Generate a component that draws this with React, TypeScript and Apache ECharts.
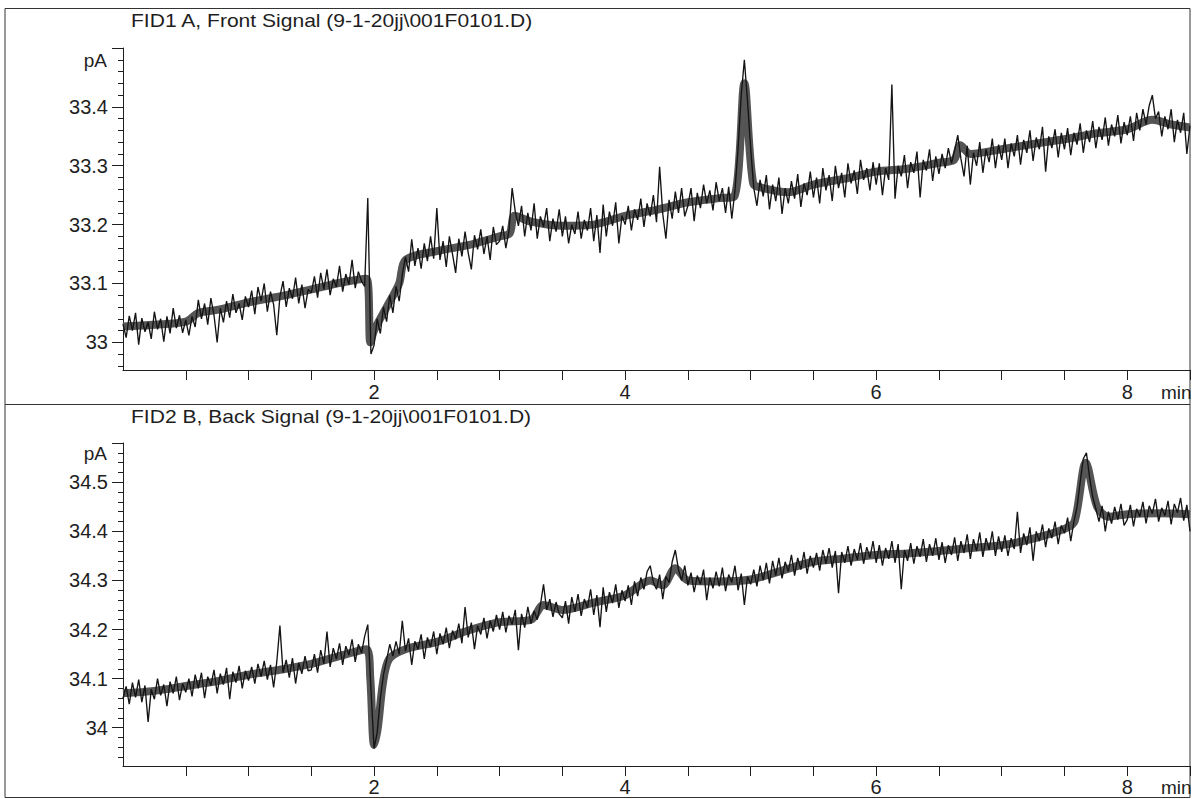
import React, { useEffect, useRef } from "react";
import * as echarts from "echarts";

// Sampling interval of the traces (minutes)
const SAMPLE_INTERVAL_MIN = 0.025;

// FID1 A, Front Signal (pA), one row = 0.5 min
const frontSignal: number[] = [
  33.031, 33.008, 33.045, 33.020, 33.050, 32.996, 33.041, 33.018, 33.034, 33.006, 33.052, 33.022, 33.040, 33.001, 33.044, 33.015, 33.058, 33.024, 33.046, 33.016,
  33.038, 33.012, 33.044, 33.026, 33.072, 33.040, 33.066, 33.030, 33.075, 33.046, 33.000, 33.058, 33.034, 33.070, 33.042, 33.082, 33.050, 33.066, 33.038, 33.078,
  33.060, 33.088, 33.048, 33.094, 33.070, 33.100, 33.052, 33.086, 33.064, 33.012, 33.078, 33.104, 33.060, 33.092, 33.074, 33.110, 33.066, 33.098, 33.058, 33.090,
  33.084, 33.112, 33.076, 33.118, 33.090, 33.124, 33.080, 33.108, 33.094, 33.130, 33.086, 33.116, 33.098, 33.140, 33.092, 33.120, 33.104, 33.095, 33.245, 32.980,
  32.995, 33.040, 33.015, 33.060, 33.035, 33.080, 33.050, 33.095, 33.070, 33.115, 33.145, 33.120, 33.175, 33.130, 33.160, 33.125, 33.168, 33.138, 33.180, 33.142,
  33.228, 33.140, 33.172, 33.128, 33.180, 33.150, 33.118, 33.176, 33.146, 33.188, 33.152, 33.124, 33.182, 33.158, 33.192, 33.150, 33.180, 33.140, 33.196, 33.166,
  33.172, 33.198, 33.160, 33.190, 33.262, 33.222, 33.198, 33.232, 33.180, 33.220, 33.190, 33.236, 33.176, 33.214, 33.196, 33.228, 33.172, 33.210, 33.188, 33.226,
  33.180, 33.214, 33.168, 33.200, 33.184, 33.222, 33.176, 33.208, 33.190, 33.228, 33.172, 33.216, 33.152, 33.234, 33.180, 33.222, 33.198, 33.238, 33.168, 33.215,
  33.200, 33.232, 33.190, 33.226, 33.208, 33.244, 33.196, 33.236, 33.214, 33.250, 33.204, 33.298, 33.218, 33.176, 33.242, 33.210, 33.256, 33.220, 33.262, 33.214,
  33.232, 33.262, 33.206, 33.254, 33.228, 33.268, 33.236, 33.258, 33.224, 33.272, 33.240, 33.262, 33.220, 33.264, 33.210, 33.258, 33.330, 33.420, 33.480, 33.410,
  33.330, 33.262, 33.232, 33.276, 33.248, 33.284, 33.226, 33.268, 33.240, 33.280, 33.218, 33.262, 33.236, 33.274, 33.244, 33.286, 33.230, 33.270, 33.250, 33.290,
  33.246, 33.280, 33.236, 33.296, 33.258, 33.284, 33.240, 33.300, 33.262, 33.288, 33.246, 33.304, 33.270, 33.292, 33.252, 33.310, 33.276, 33.296, 33.258, 33.306,
  33.268, 33.304, 33.250, 33.296, 33.276, 33.438, 33.244, 33.300, 33.282, 33.318, 33.262, 33.306, 33.288, 33.324, 33.246, 33.310, 33.292, 33.328, 33.274, 33.316,
  33.286, 33.320, 33.296, 33.330, 33.304, 33.326, 33.352, 33.312, 33.282, 33.334, 33.268, 33.322, 33.300, 33.340, 33.288, 33.328, 33.306, 33.346, 33.296, 33.336,
  33.310, 33.346, 33.296, 33.338, 33.316, 33.352, 33.302, 33.344, 33.322, 33.360, 33.308, 33.348, 33.328, 33.366, 33.290, 33.350, 33.330, 33.362, 33.314, 33.356,
  33.328, 33.364, 33.318, 33.356, 33.336, 33.372, 33.322, 33.360, 33.340, 33.376, 33.330, 33.366, 33.344, 33.382, 33.334, 33.370, 33.350, 33.386, 33.338, 33.374,
  33.352, 33.384, 33.342, 33.390, 33.360, 33.396, 33.370, 33.402, 33.420, 33.380, 33.392, 33.350, 33.384, 33.362, 33.396, 33.340, 33.378, 33.356, 33.390, 33.320,
  33.368,
];

// Dense core of the front trace (minutes, pA)
const frontCore: [number, number][] = [
  [0, 33.027], [0.25, 33.03], [0.5, 33.035], [0.6, 33.05], [0.75, 33.055], [1.0, 33.068], [1.25, 33.078], [1.5, 33.09],
  [1.75, 33.102], [1.94, 33.108], [1.97, 33.0], [2.0, 33.02], [2.1, 33.06], [2.2, 33.1], [2.25, 33.14], [2.5, 33.155],
  [2.75, 33.165], [3.0, 33.18], [3.08, 33.185], [3.12, 33.215], [3.25, 33.205], [3.5, 33.198], [3.75, 33.2], [4.0, 33.215],
  [4.25, 33.225], [4.5, 33.238], [4.75, 33.245], [4.87, 33.248], [4.95, 33.44], [5.02, 33.27], [5.1, 33.262], [5.3, 33.255],
  [5.5, 33.268], [5.75, 33.278], [6.0, 33.29], [6.25, 33.295], [6.5, 33.305], [6.62, 33.31], [6.67, 33.335], [6.75, 33.32],
  [7.0, 33.328], [7.25, 33.337], [7.5, 33.345], [7.75, 33.355], [8.0, 33.362], [8.2, 33.378], [8.35, 33.37], [8.5, 33.365],
];

// FID2 B, Back Signal (pA), one row = 0.5 min
const backSignal: number[] = [
  34.060, 34.084, 34.048, 34.092, 34.062, 34.098, 34.052, 34.086, 34.012, 34.078, 34.058, 34.100, 34.066, 34.088, 34.044, 34.094, 34.070, 34.104, 34.056, 34.090,
  34.072, 34.100, 34.064, 34.108, 34.080, 34.112, 34.060, 34.104, 34.086, 34.118, 34.070, 34.110, 34.088, 34.122, 34.058, 34.114, 34.092, 34.126, 34.080, 34.116,
  34.096, 34.124, 34.090, 34.130, 34.104, 34.136, 34.098, 34.128, 34.082, 34.134, 34.208, 34.112, 34.138, 34.102, 34.142, 34.090, 34.132, 34.110, 34.146, 34.116,
  34.118, 34.150, 34.112, 34.158, 34.130, 34.196, 34.124, 34.162, 34.140, 34.172, 34.128, 34.166, 34.148, 34.180, 34.134, 34.170, 34.152, 34.186, 34.210, 34.080,
  33.958, 33.990, 34.060, 34.108, 34.138, 34.170, 34.146, 34.176, 34.150, 34.218, 34.156, 34.182, 34.128, 34.176, 34.160, 34.190, 34.140, 34.184, 34.164, 34.196,
  34.150, 34.192, 34.170, 34.204, 34.162, 34.198, 34.180, 34.212, 34.172, 34.246, 34.184, 34.214, 34.160, 34.208, 34.190, 34.224, 34.182, 34.218, 34.196, 34.230,
  34.200, 34.236, 34.194, 34.228, 34.210, 34.240, 34.158, 34.232, 34.204, 34.246, 34.212, 34.238, 34.220, 34.250, 34.292, 34.240, 34.262, 34.226, 34.256, 34.232,
  34.224, 34.258, 34.212, 34.266, 34.236, 34.272, 34.228, 34.262, 34.244, 34.282, 34.230, 34.270, 34.205, 34.286, 34.236, 34.276, 34.254, 34.292, 34.244, 34.280,
  34.258, 34.290, 34.250, 34.298, 34.268, 34.306, 34.282, 34.318, 34.330, 34.296, 34.282, 34.312, 34.262, 34.308, 34.296, 34.338, 34.362, 34.322, 34.300, 34.330,
  34.290, 34.316, 34.276, 34.310, 34.292, 34.322, 34.260, 34.306, 34.284, 34.318, 34.288, 34.326, 34.278, 34.312, 34.296, 34.330, 34.280, 34.314, 34.250, 34.308,
  34.292, 34.322, 34.288, 34.330, 34.300, 34.336, 34.294, 34.340, 34.310, 34.346, 34.304, 34.338, 34.318, 34.352, 34.310, 34.346, 34.322, 34.358, 34.314, 34.350,
  34.326, 34.356, 34.320, 34.362, 34.334, 34.366, 34.326, 34.360, 34.274, 34.358, 34.336, 34.370, 34.330, 34.364, 34.342, 34.376, 34.334, 34.368, 34.346, 34.380,
  34.336, 34.372, 34.330, 34.366, 34.344, 34.380, 34.336, 34.374, 34.282, 34.362, 34.340, 34.376, 34.334, 34.370, 34.348, 34.384, 34.338, 34.374, 34.350, 34.386,
  34.342, 34.378, 34.336, 34.372, 34.352, 34.388, 34.340, 34.380, 34.356, 34.394, 34.344, 34.384, 34.360, 34.398, 34.348, 34.386, 34.362, 34.400, 34.350, 34.390,
  34.358, 34.392, 34.350, 34.386, 34.364, 34.440, 34.356, 34.396, 34.372, 34.408, 34.340, 34.400, 34.380, 34.414, 34.368, 34.406, 34.386, 34.420, 34.374, 34.412,
  34.396, 34.428, 34.380, 34.420, 34.450, 34.500, 34.548, 34.560, 34.510, 34.470, 34.446, 34.420, 34.452, 34.400, 34.440, 34.416, 34.450, 34.424, 34.456, 34.412,
  34.424, 34.454, 34.410, 34.446, 34.430, 34.460, 34.416, 34.452, 34.436, 34.466, 34.420, 34.448, 34.432, 34.462, 34.414, 34.456, 34.438, 34.468, 34.422, 34.454,
  34.400,
];

// Dense core of the back trace (minutes, pA)
const backCore: [number, number][] = [
  [0, 34.07], [0.25, 34.075], [0.5, 34.085], [0.75, 34.095], [1.0, 34.108], [1.25, 34.118], [1.5, 34.13], [1.75, 34.148],
  [1.94, 34.16], [1.97, 34.1], [2.0, 33.965], [2.03, 34.0], [2.07, 34.09], [2.12, 34.14], [2.25, 34.16], [2.5, 34.175],
  [2.75, 34.198], [3.0, 34.215], [3.25, 34.22], [3.35, 34.25], [3.5, 34.24], [3.75, 34.255], [4.0, 34.27], [4.2, 34.3],
  [4.3, 34.29], [4.4, 34.325], [4.5, 34.3], [4.75, 34.298], [5.0, 34.302], [5.25, 34.32], [5.5, 34.338], [5.75, 34.345],
  [6.0, 34.352], [6.25, 34.355], [6.5, 34.36], [6.75, 34.366], [7.0, 34.372], [7.25, 34.385], [7.5, 34.405], [7.58, 34.42],
  [7.67, 34.54], [7.76, 34.45], [7.85, 34.43], [8.0, 34.435], [8.25, 34.437], [8.5, 34.435],
];

// Axis ranges and tick positions
const xRange = [0, 8.5];
const xTickValues = [0.5, 1, 1.5, 2, 2.5, 3, 3.5, 4, 4.5, 5, 5.5, 6, 6.5, 7, 7.5, 8, 8.5];
const xLabelValues = [2, 4, 6, 8];

const frontRange = [32.953, 33.5];
const frontLabelValues = [33, 33.1, 33.2, 33.3, 33.4];
const frontMajorTicks = [33, 33.1, 33.2, 33.3, 33.4, 33.5];
const frontMinorTicks = [32.96, 32.98, 33.02, 33.04, 33.06, 33.08, 33.12, 33.14, 33.16, 33.18, 33.22, 33.24, 33.26, 33.28, 33.32, 33.34, 33.36, 33.38, 33.42, 33.44, 33.46, 33.48];

const backRange = [33.922, 34.58];
const backLabelValues = [34, 34.1, 34.2, 34.3, 34.4, 34.5];
const backMajorTicks = [34, 34.1, 34.2, 34.3, 34.4, 34.5, 34.58];
const backMinorTicks = [33.94, 33.96, 33.98, 34.02, 34.04, 34.06, 34.08, 34.12, 34.14, 34.16, 34.18, 34.22, 34.24, 34.26, 34.28, 34.32, 34.34, 34.36, 34.38, 34.42, 34.44, 34.46, 34.48, 34.52, 34.54, 34.56];

const frontTitle = "FID1 A, Front Signal (9-1-20jj\\001F0101.D)";
const backTitle = "FID2 B, Back Signal (9-1-20jj\\001F0101.D)";

const FONT = "'Liberation Sans', Arial, sans-serif";
const INK = "#1e1e1e";
const TEXT_STRETCH = 1.17;

function toPairs(values: number[]): [number, number][] {
  return values.map((v, i) => [Number((i * SAMPLE_INTERVAL_MIN).toFixed(3)), v]);
}

export default function App() {
  const ref = useRef<HTMLDivElement>(null);

  useEffect(() => {
    if (!ref.current) return;
    const chart = echarts.init(ref.current, undefined, { renderer: "svg" });

    const xAxisBase = (gridIndex: number, labelMargin: number) => ({
      type: "value",
      gridIndex,
      min: xRange[0],
      max: xRange[1],
      axisLine: { show: true, lineStyle: { color: INK, width: 1 } },
      axisTick: { show: true, inside: false, length: 10, customValues: xTickValues, lineStyle: { color: INK } },
      axisLabel: {
        show: true,
        customValues: xLabelValues,
        margin: labelMargin,
        fontSize: 20,
        fontFamily: FONT,
        color: INK,
      },
      splitLine: { show: false },
    });

    const yLabelAxis = (gridIndex: number, range: number[], minor: number[], labels: number[]) => ({
      type: "value",
      gridIndex,
      position: "left",
      min: range[0],
      max: range[1],
      axisLine: { show: true, lineStyle: { color: INK, width: 1 } },
      axisTick: { show: true, inside: false, length: 5, customValues: minor, lineStyle: { color: INK } },
      axisLabel: {
        show: true,
        customValues: labels,
        margin: 15,
        fontSize: 20,
        fontFamily: FONT,
        color: INK,
        formatter: (v: number) => String(Number(v.toFixed(2))),
      },
      splitLine: { show: false },
    });

    const yMajorAxis = (gridIndex: number, range: number[], ticks: number[]) => ({
      type: "value",
      gridIndex,
      position: "left",
      offset: 0,
      min: range[0],
      max: range[1],
      axisLine: { show: false },
      axisTick: { show: true, inside: false, length: 11, customValues: ticks, lineStyle: { color: INK } },
      axisLabel: { show: false },
      splitLine: { show: false },
    });

    const coreSeries = (name: string, idx: number, data: [number, number][]) => ({
      name,
      type: "line",
      xAxisIndex: idx,
      yAxisIndex: idx,
      data,
      showSymbol: false,
      symbol: "none",
      smooth: 0.3,
      lineStyle: { color: "#555555", width: 8, cap: "butt", join: "round" },
      emphasis: { disabled: true },
      silent: true,
      z: 1,
    });

    const traceSeries = (name: string, idx: number, values: number[]) => ({
      name,
      type: "line",
      xAxisIndex: idx,
      yAxisIndex: idx,
      data: toPairs(values),
      showSymbol: false,
      symbol: "none",
      lineStyle: { color: "#141414", width: 1.35 },
      emphasis: { disabled: true },
      z: 2,
    });

    const option = {
      animation: false,
      backgroundColor: "#ffffff",
      grid: [
        { left: 123, top: 48, width: 1067, height: 322 },
        { left: 123, top: 443, width: 1067, height: 323 },
      ],
      xAxis: [xAxisBase(0, 12), xAxisBase(1, 11)],
      yAxis: [
        yLabelAxis(0, frontRange, frontMinorTicks, frontLabelValues),
        yLabelAxis(1, backRange, backMinorTicks, backLabelValues),
        yMajorAxis(0, frontRange, frontMajorTicks),
        yMajorAxis(1, backRange, backMajorTicks),
      ],
      series: [
        coreSeries("FID1 A core", 0, frontCore),
        traceSeries("FID1 A, Front Signal", 0, frontSignal),
        coreSeries("FID2 B core", 1, backCore),
        traceSeries("FID2 B, Back Signal", 1, backSignal),
      ],
      graphic: [
        {
          type: "rect",
          shape: { x: 5, y: 8.5, width: 1185, height: 789 },
          style: { fill: "none", stroke: "#333", lineWidth: 1 },
          silent: true,
        },
        {
          type: "line",
          shape: { x1: 5, y1: 404.5, x2: 1190, y2: 404.5 },
          style: { stroke: "#333", lineWidth: 1 },
          silent: true,
        },
        {
          type: "text",
          x: 131,
          y: 21,
          scaleX: TEXT_STRETCH,
          style: { text: frontTitle, fontSize: 18, fontFamily: FONT, fill: INK, verticalAlign: "middle", align: "left" },
        },
        {
          type: "text",
          x: 131,
          y: 417,
          scaleX: TEXT_STRETCH,
          style: { text: backTitle, fontSize: 18, fontFamily: FONT, fill: INK, verticalAlign: "middle", align: "left" },
        },
        {
          type: "text",
          x: 107,
          y: 60,
          style: { text: "pA", fontSize: 19, fontFamily: FONT, fill: INK, verticalAlign: "middle", align: "right" },
        },
        {
          type: "text",
          x: 107,
          y: 453,
          style: { text: "pA", fontSize: 19, fontFamily: FONT, fill: INK, verticalAlign: "middle", align: "right" },
        },
        {
          type: "text",
          x: 1161,
          y: 392,
          style: { text: "min", fontSize: 19, fontFamily: FONT, fill: INK, verticalAlign: "middle", align: "left" },
        },
        {
          type: "text",
          x: 1161,
          y: 787,
          style: { text: "min", fontSize: 19, fontFamily: FONT, fill: INK, verticalAlign: "middle", align: "left" },
        },
      ],
    };

    chart.setOption(option as any);
    return () => chart.dispose();
  }, []);

  return (
    <div
      ref={ref}
      style={{ position: "fixed", left: 0, top: 0, width: 1193, height: 799, background: "#fff" }}
    />
  );
}
